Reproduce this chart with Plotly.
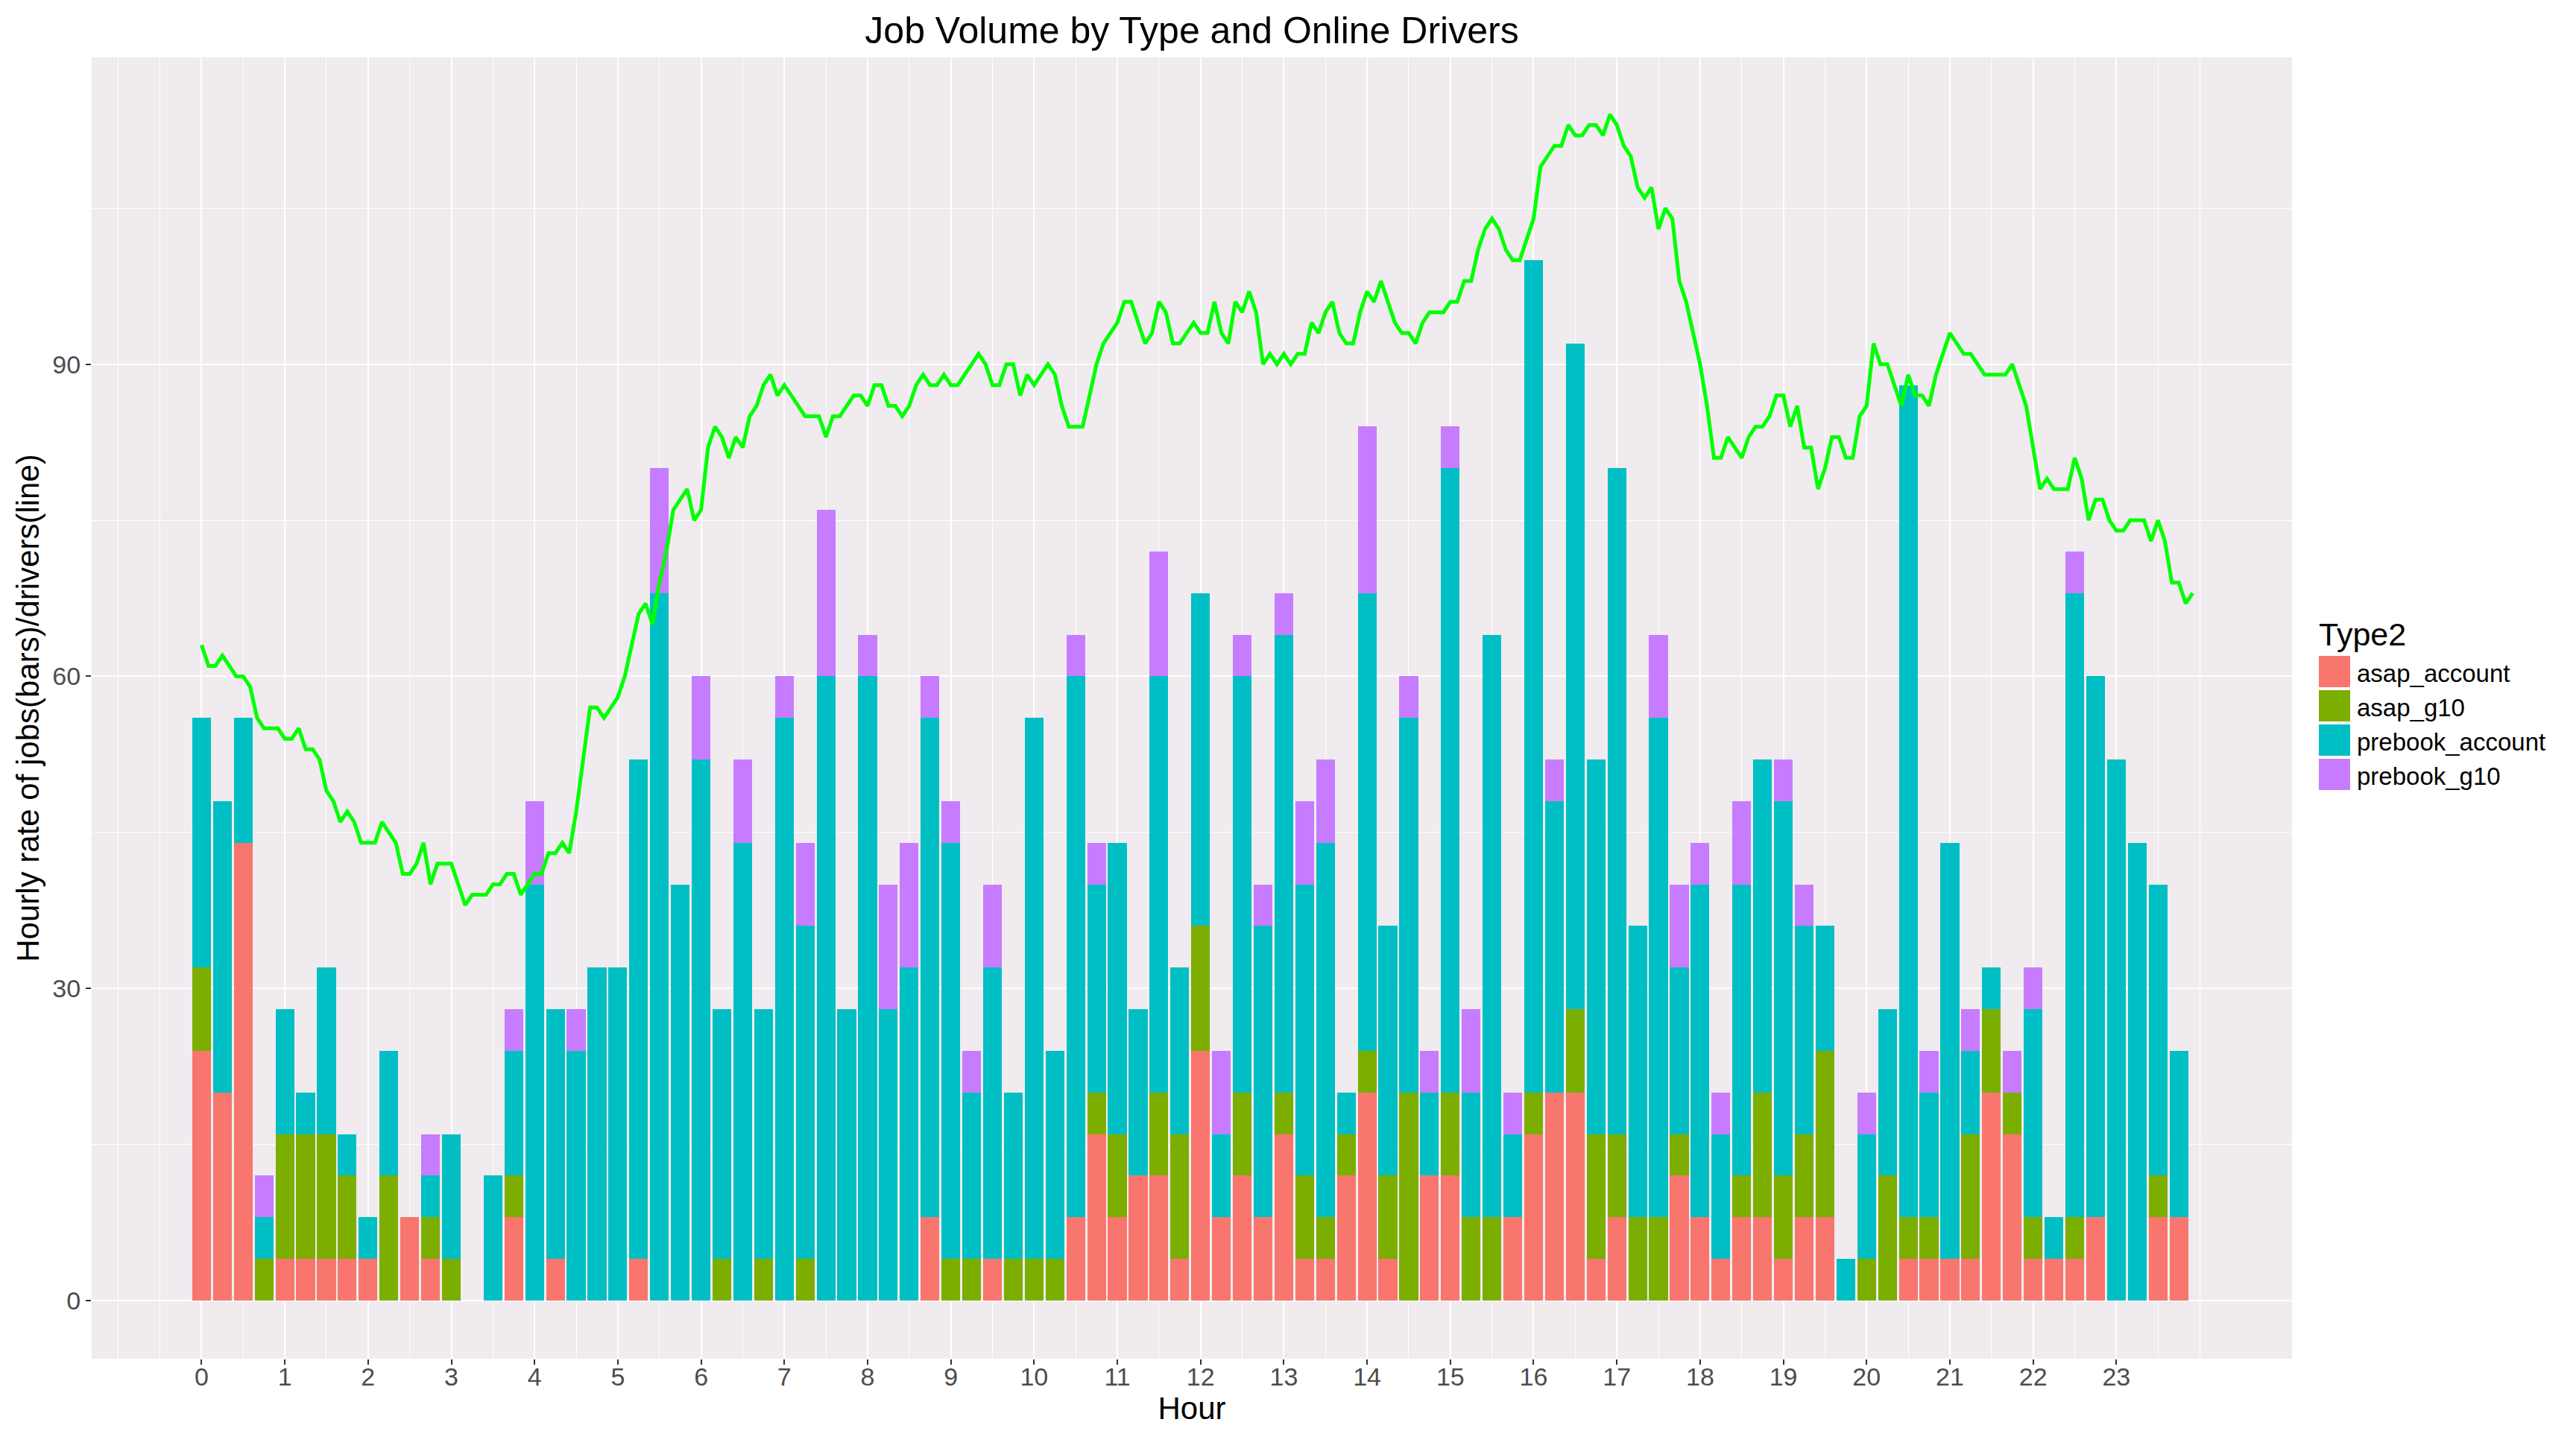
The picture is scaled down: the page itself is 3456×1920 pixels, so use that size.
import plotly.graph_objects as go

# 15-minute job rates (jobs per hour), 4 bars per hour from 0:00 to 23:45
asap_account = [
    24, 20, 44, 0,   4, 4, 4, 4,   4, 0, 8, 4,   0, 0, 0, 8,
    0, 4, 0, 0,   0, 4, 0, 0,   0, 0, 0, 0,   0, 0, 0, 0,
    0, 0, 0, 8,   0, 0, 4, 0,   0, 0, 8, 16,   8, 12, 12, 4,
    24, 8, 12, 8,   16, 4, 4, 12,   20, 4, 0, 12,   12, 0, 0, 8,
    16, 20, 20, 4,   8, 0, 0, 12,   8, 4, 8, 8,   4, 8, 8, 0,
    0, 0, 4, 4,   4, 4, 20, 16,   4, 4, 4, 8,   0, 0, 8, 8,
]
asap_g10 = [
    8, 0, 0, 4,   12, 12, 12, 8,   0, 12, 0, 4,   4, 0, 0, 4,
    0, 0, 0, 0,   0, 0, 0, 0,   0, 4, 0, 4,   0, 4, 0, 0,
    0, 0, 0, 0,   4, 4, 0, 4,   4, 4, 0, 4,   8, 0, 8, 12,
    12, 0, 8, 0,   4, 8, 4, 4,   4, 8, 20, 0,   8, 8, 8, 0,
    4, 0, 8, 12,   8, 8, 8, 4,   0, 0, 4, 12,   8, 8, 16, 0,
    4, 12, 4, 4,   0, 12, 8, 4,   4, 0, 4, 0,   0, 0, 4, 0,
]
prebook_account = [
    24, 28, 12, 4,   12, 4, 16, 4,   4, 12, 0, 4,   12, 0, 12, 12,
    40, 24, 24, 32,   32, 48, 68, 40,   52, 24, 44, 24,   56, 32, 60, 28,
    60, 28, 32, 48,   40, 16, 28, 16,   52, 20, 52, 20,   28, 16, 40, 16,
    32, 8, 40, 28,   44, 28, 36, 4,   44, 24, 36, 8,   60, 12, 56, 8,
    80, 28, 64, 36,   64, 28, 48, 16,   32, 12, 28, 32,   36, 20, 12, 4,
    12, 16, 80, 12,   40, 8, 4, 0,   20, 4, 60, 52,   52, 44, 28, 16,
]
prebook_g10 = [
    0, 0, 0, 4,   0, 0, 0, 0,   0, 0, 0, 4,   0, 0, 0, 4,
    8, 0, 4, 0,   0, 0, 12, 0,   8, 0, 8, 0,   4, 8, 16, 0,
    4, 12, 12, 4,   4, 4, 8, 0,   0, 0, 4, 4,   0, 0, 12, 0,
    0, 8, 4, 4,   4, 8, 8, 0,   16, 0, 4, 4,   4, 8, 0, 4,
    0, 4, 0, 0,   0, 0, 8, 8,   4, 4, 8, 0,   4, 4, 0, 0,
    4, 0, 0, 4,   0, 4, 0, 4,   4, 0, 4, 0,   0, 0, 0, 0,
]

# online drivers, every 5 minutes (12 per hour)
drivers = [
    63, 61, 61, 62, 61, 60, 60, 59, 56, 55, 55, 55,
    54, 54, 55, 53, 53, 52, 49, 48, 46, 47, 46, 44,
    44, 44, 46, 45, 44, 41, 41, 42, 44, 40, 42, 42,
    42, 40, 38, 39, 39, 39, 40, 40, 41, 41, 39, 40,
    41, 41, 43, 43, 44, 43, 47, 52, 57, 57, 56, 57,
    58, 60, 63, 66, 67, 65, 69, 72, 76, 77, 78, 75,
    76, 82, 84, 83, 81, 83, 82, 85, 86, 88, 89, 87,
    88, 87, 86, 85, 85, 85, 83, 85, 85, 86, 87, 87,
    86, 88, 88, 86, 86, 85, 86, 88, 89, 88, 88, 89,
    88, 88, 89, 90, 91, 90, 88, 88, 90, 90, 87, 89,
    88, 89, 90, 89, 86, 84, 84, 84, 87, 90, 92, 93,
    94, 96, 96, 94, 92, 93, 96, 95, 92, 92, 93, 94,
    93, 93, 96, 93, 92, 96, 95, 97, 95, 90, 91, 90,
    91, 90, 91, 91, 94, 93, 95, 96, 93, 92, 92, 95,
    97, 96, 98, 96, 94, 93, 93, 92, 94, 95, 95, 95,
    96, 96, 98, 98, 101, 103, 104, 103, 101, 100, 100, 102,
    104, 109, 110, 111, 111, 113, 112, 112, 113, 113, 112, 114,
    113, 111, 110, 107, 106, 107, 103, 105, 104, 98, 96, 93,
    90, 86, 81, 81, 83, 82, 81, 83, 84, 84, 85, 87,
    87, 84, 86, 82, 82, 78, 80, 83, 83, 81, 81, 85,
    86, 92, 90, 90, 88, 86, 89, 87, 87, 86, 89, 91,
    93, 92, 91, 91, 90, 89, 89, 89, 89, 90, 88, 86,
    82, 78, 79, 78, 78, 78, 81, 79, 75, 77, 77, 75,
    74, 74, 75, 75, 75, 73, 75, 73, 69, 69, 67, 68,
]

types = ["asap_account", "asap_g10", "prebook_account", "prebook_g10"]
colors = ["#F8766D", "#7CAE00", "#00BFC4", "#C77CFF"]
hour_ticks = list(range(24))

bar_hours = [h + q / 4 for h in range(24) for q in range(4)]
line_hours = [h + m / 60 for h in range(24) for m in range(0, 60, 5)]

FONT = "Liberation Sans, Arial, sans-serif"
W, H = 3456, 1920
L, R, T, B = 115, 389, 69, 105

fig = go.Figure()
for name, vals, col in zip(types, [asap_account, asap_g10, prebook_account, prebook_g10], colors):
    fig.add_trace(go.Bar(x=bar_hours, y=vals, name=name, width=0.225,
                         marker=dict(color=col, line=dict(width=0)), showlegend=False))

fig.add_trace(go.Scatter(x=line_hours, y=drivers, mode="lines", name="drivers",
                         line=dict(color="#00FF00", width=5), showlegend=False))

# legend drawn by hand so the keys get ggplot-sized squares
def px_x(p):
    return (p - L) / (W - L - R)

def px_y(p):
    return (H - B - p) / (H - T - B)

shapes = []
annotations = [dict(text="Type2", x=px_x(3101), y=px_y(869), xref="paper", yref="paper",
                    xanchor="left", yanchor="bottom", showarrow=False,
                    font=dict(family=FONT, size=43, color="black"))]
for i, (name, col) in enumerate(zip(types, colors)):
    top = 871 + i * 46
    shapes.append(dict(type="rect", xref="paper", yref="paper",
                       x0=px_x(3102), x1=px_x(3146), y0=px_y(top + 44), y1=px_y(top),
                       fillcolor=col, line=dict(color="white", width=2)))
    annotations.append(dict(text=name, x=px_x(3152), y=px_y(top + 24), xref="paper", yref="paper",
                            xanchor="left", yanchor="middle", showarrow=False,
                            font=dict(family=FONT, size=33, color="black")))

fig.update_layout(
    width=W, height=H,
    barmode="stack",
    bargap=0,
    title=dict(text="Job Volume by Type and Online Drivers", x=(L + (W - L - R) / 2) / W, xanchor="center",
               y=1 - 50 / H, yanchor="bottom", font=dict(family=FONT, size=50, color="black")),
    margin=dict(l=L, r=R, t=T, b=B),
    paper_bgcolor="white",
    plot_bgcolor="#EFEBEF",
    font=dict(family=FONT),
    shapes=shapes,
    annotations=annotations,
)

fig.update_xaxes(
    range=[-1.32, 25.11], tickvals=hour_ticks, ticktext=[str(h) for h in hour_ticks],
    ticks="outside", ticklen=7, tickwidth=2, tickcolor="#333333", ticklabelstandoff=-13,
    tickfont=dict(family=FONT, size=34, color="#4D4D4D"),
    showgrid=True, gridcolor="white", gridwidth=2, zeroline=False, showline=False,
    minor=dict(tickvals=[v / 2 for v in range(-2, 49)], showgrid=True, gridcolor="white", gridwidth=1, ticks=""),
    title=dict(text="Hour", font=dict(family=FONT, size=42, color="black"), standoff=2),
    automargin=False,
)
fig.update_yaxes(
    range=[-5.6, 119.5], tickvals=[0, 30, 60, 90],
    ticks="outside", ticklen=7, tickwidth=2, tickcolor="#333333",
    tickfont=dict(family=FONT, size=34, color="#4D4D4D"),
    showgrid=True, gridcolor="white", gridwidth=2, zeroline=False, showline=False,
    minor=dict(tickvals=[15, 45, 75, 105], showgrid=True, gridcolor="white", gridwidth=1, ticks=""),
    title=dict(text="Hourly rate of jobs(bars)/drivers(line)", font=dict(family=FONT, size=42, color="black"),
               standoff=4),
    automargin=False,
)

fig.write_html("out.html")
